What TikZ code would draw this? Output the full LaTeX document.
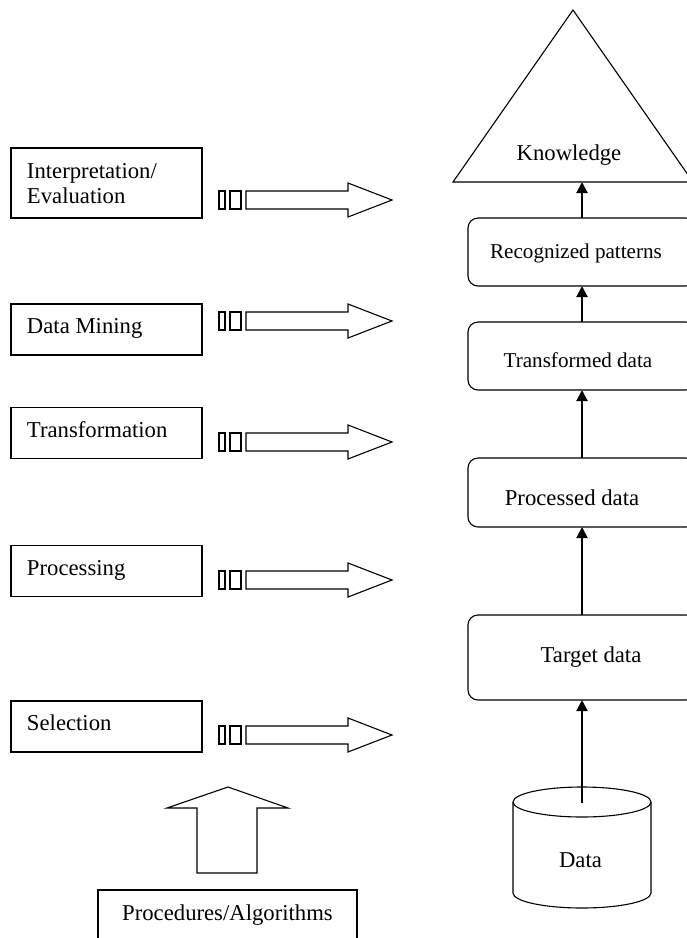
\documentclass[tikz,border=0pt]{standalone}
\usepackage{fontspec}
\setmainfont{Liberation Serif}
\usetikzlibrary{arrows.meta}
\begin{document}
\begin{tikzpicture}[x=1pt,y=-1pt,
  every node/.style={inner sep=0pt, outer sep=0pt},
  stepbox/.style={draw, line width=1.1pt, minimum width=191pt, minimum height=51pt},
  txt/.style={font=\fontsize{22.7}{25}\selectfont, anchor=base west},
  ctxt/.style={font=\fontsize{22.7}{25}\selectfont, anchor=base},
  smalltxt/.style={font=\fontsize{21.1}{25}\selectfont, anchor=base},
  stage/.style={draw, rounded corners=10pt, line width=1.1pt, minimum width=228pt, minimum height=68pt},
  flow/.style={line width=2pt, -{Triangle[length=11pt,width=11pt]}},
  hollow/.style={draw, line width=1.1pt, line join=miter}
]
\useasboundingbox (0,0) rectangle (687,938);
\clip (0,0) rectangle (687,938);

% ---- process steps (left column) ----
\node[stepbox, minimum height=70pt] (interp) at (106.5,183) {};
\node[txt] (interp-t1) at (27,178) {Interpretation/};
\node[txt] (interp-t2) at (27,203) {Evaluation};

\node[stepbox] (mining) at (106.5,329.5) {};
\node[txt] (mining-t) at (27,333) {Data Mining};

\node[stepbox] (transf) at (106.5,433) {};
\node[txt] (transf-t) at (27,437) {Transformation};

\node[stepbox] (proc) at (106.5,571) {};
\node[txt] (proc-t) at (27,575) {Processing};

\node[stepbox] (sel) at (106.5,726.5) {};
\node[txt] (sel-t) at (27,730) {Selection};

% ---- hollow block arrows pointing right ----
\foreach \c in {200,321,442,580,735} {
  \draw[hollow] (219,\c-9) rectangle (225,\c+9);
  \draw[hollow] (230,\c-9) rectangle (241,\c+9);
  \draw[hollow] (246,\c-9) -- (348,\c-9) -- (348,\c-17) -- (392,\c)
                -- (348,\c+17) -- (348,\c+9) -- (246,\c+9) -- cycle;
}

% ---- procedures box and upward block arrow ----
\node[draw, line width=1.1pt, minimum width=259pt, minimum height=60pt] (algo) at (227.5,920) {};
\node[ctxt] (algo-t) at (227.5,920) {Procedures/Algorithms};
\draw[hollow] (197,873) -- (197,808) -- (167,808) -- (228,787) -- (288,808)
              -- (257,808) -- (257,873) -- cycle;

% ---- knowledge pyramid ----
\draw[line width=1.1pt, line join=miter] (453,182) -- (573,10) -- (693,182) -- cycle;
\node[ctxt] (know) at (569,160) {Knowledge};
\coordinate (kbase) at (582,182);

% ---- data stages (right column) ----
\node[stage] (recog) at (582,252) {};
\node[smalltxt] (recog-t) at (576,258) {Recognized patterns};

\node[stage] (transd) at (582,356) {};
\node[smalltxt] (transd-t) at (578,367) {Transformed data};

\node[stage, minimum height=69pt] (procd) at (582,492.5) {};
\node[ctxt] (procd-t) at (572,505) {Processed data};

\node[stage, minimum height=85pt] (target) at (582,657.5) {};
\node[ctxt] (target-t) at (591,662) {Target data};

% ---- data store cylinder ----
\draw[line width=1.1pt] (582,802) ellipse [x radius=69pt, y radius=15pt];
\draw[line width=1.1pt] (513,802) -- (513,893)
      arc[start angle=180, end angle=360, x radius=69pt, y radius=15pt] -- (651,802);
\coordinate (cyltop) at (582,803);
\node[ctxt] (data-t) at (580.5,867) {Data};

% ---- flow arrows ----
\draw[flow] (cyltop) -- (target.south);
\draw[flow] (target.north) -- (procd.south);
\draw[flow] (procd.north) -- (transd.south);
\draw[flow] (transd.north) -- (recog.south);
\draw[flow] (recog.north) -- (kbase);
\end{tikzpicture}
\end{document}
